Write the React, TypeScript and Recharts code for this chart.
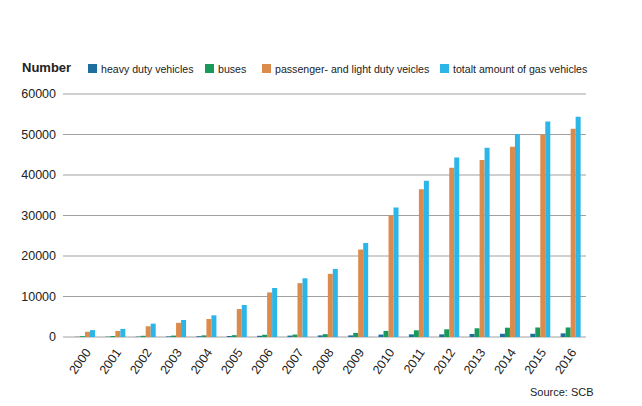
import { BarChart, Bar, XAxis, YAxis, CartesianGrid } from 'recharts';

const years = ['2000', '2001', '2002', '2003', '2004', '2005', '2006', '2007', '2008', '2009', '2010', '2011', '2012', '2013', '2014', '2015', '2016'];
const heavyDuty = [50, 80, 100, 150, 200, 250, 300, 350, 400, 400, 600, 650, 650, 750, 800, 800, 900];
const buses = [200, 250, 300, 350, 400, 450, 550, 600, 700, 1000, 1500, 1650, 1900, 2150, 2300, 2350, 2350];
const passenger = [1300, 1500, 2650, 3500, 4450, 6900, 11000, 13300, 15600, 21600, 30000, 36500, 41800, 43700, 47000, 50000, 51400];
const totalGas = [1700, 2000, 3300, 4200, 5350, 7900, 12100, 14500, 16800, 23200, 32000, 38600, 44300, 46700, 50100, 53200, 54400];
const yTicks = [0, 10000, 20000, 30000, 40000, 50000, 60000];

// legend swatch x positions, one per series
const SERIES = [
  { key: 'heavy', label: 'heavy duty vehicles', color: '#1f6f9e', left: 88 },
  { key: 'buses', label: 'buses', color: '#179a5b', left: 205 },
  { key: 'passenger', label: 'passenger- and light duty veicles', color: '#db8b4c', left: 262 },
  { key: 'total', label: 'totalt amount of gas vehicles', color: '#2cb6e8', left: 440 },
];

const data = years.map((year, i) => ({
  year,
  heavy: heavyDuty[i],
  buses: buses[i],
  passenger: passenger[i],
  total: totalGas[i],
}));

const FONT = '"Liberation Sans", Arial, Helvetica, sans-serif';

const YearTick = ({ x, y, payload }: any) => (
  <g transform={`translate(${x + 3},${y + 5})`}>
    <text textAnchor="end" transform="rotate(-55)" fontSize={12.5} fill="#222" fontFamily={FONT} dy={4}>
      {payload.value}
    </text>
  </g>
);

export default function App() {
  return (
    <div style={{ position: 'absolute', left: 0, top: 0, width: 642, height: 406, background: '#fff', fontFamily: FONT }}>
      {/* legend row */}
      <div style={{ position: 'absolute', left: 22, top: 60, fontWeight: 'bold', fontSize: 13, color: '#222' }}>Number</div>
      {SERIES.map(s => (
        <div
          key={s.key}
          style={{ position: 'absolute', left: s.left, top: 61, height: 15, display: 'flex', alignItems: 'center', fontSize: 10.6, color: '#222', whiteSpace: 'nowrap' }}
        >
          <span style={{ width: 9, height: 9, background: s.color, marginRight: 4, display: 'inline-block' }} />
          {s.label}
        </div>
      ))}
      <BarChart
        width={642}
        height={406}
        data={data}
        margin={{ top: 94, right: 56, left: 3, bottom: 9 }}
        barGap={0}
        barSize={5}
      >
        <CartesianGrid vertical={false} stroke="#a0a0a0" />
        <XAxis
          dataKey="year"
          axisLine={false}
          tickLine={false}
          height={60}
          interval={0}
          padding={{ left: 7, right: 0 }}
          tick={<YearTick />}
        />
        <YAxis
          width={60}
          domain={[0, 60000]}
          ticks={yTicks}
          axisLine={false}
          tickLine={false}
          tickSize={5}
          tick={{ fontSize: 12.5, fill: '#222', fontFamily: FONT }}
        />
        {SERIES.map(s => (
          <Bar key={s.key} dataKey={s.key} fill={s.color} isAnimationActive={false} />
        ))}
      </BarChart>
      <div style={{ position: 'absolute', left: 530, top: 386, fontSize: 11, color: '#222' }}>Source: SCB</div>
    </div>
  );
}
